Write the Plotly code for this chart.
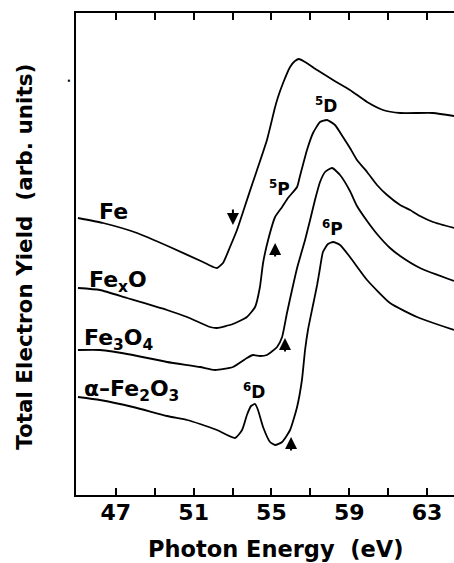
import plotly.graph_objects as go

# Photon energy (eV) and total electron yield (arb. units)
fe_e = [45.05, 46.34, 48.09, 49.78, 51.48, 52.00, 52.20, 52.51, 52.87, 53.23, 53.64, 54.05,
        54.26, 54.77, 55.19, 55.34, 55.60, 55.96, 56.21, 56.42, 56.73, 57.35, 58.17, 59.04,
        59.92, 60.74, 61.62, 63.31, 64.39]
fe_y = [27.9, 27.4, 26.4, 25.0, 23.5, 23.0, 22.9, 23.4, 25.0, 26.7, 29.1, 31.5,
        32.7, 35.7, 39.0, 40.0, 41.4, 43.0, 43.6, 43.8, 43.5, 42.7, 41.7, 40.7,
        39.5, 38.7, 38.4, 38.4, 38.1]

fexo_e = [45.05, 46.18, 47.57, 49.63, 50.66, 51.84, 52.20, 53.02, 53.74, 54.16, 54.41, 54.57,
          54.83, 55.19, 55.55, 55.85, 56.32, 56.47, 56.83, 57.14, 57.50, 57.86, 58.27, 58.68,
          59.04, 59.40, 59.92, 60.43, 60.95, 61.62, 62.13, 62.64, 63.31, 64.39]
fexo_y = [20.9, 20.7, 19.9, 18.7, 18.0, 17.0, 16.9, 17.3, 18.0, 19.0, 21.0, 23.4,
          25.7, 28.0, 29.0, 29.9, 31.0, 32.1, 34.7, 36.4, 37.5, 37.7, 37.2, 36.0,
          34.9, 33.7, 32.5, 31.2, 30.2, 29.2, 28.7, 28.1, 27.5, 26.9]

fe3o4_e = [45.05, 46.18, 47.88, 49.63, 51.33, 52.10, 53.02, 53.74, 54.05, 54.41, 54.77, 55.29,
           55.55, 55.80, 56.06, 56.32, 56.73, 56.99, 57.24, 57.50, 57.76, 58.12, 58.53,
           59.04, 59.40, 59.92, 60.43, 61.10, 61.62, 62.64, 64.39]
fe3o4_y = [14.7, 14.7, 14.2, 13.5, 13.0, 12.7, 13.0, 13.9, 14.2, 14.1, 14.2, 15.0,
           16.0, 18.4, 20.7, 22.9, 25.7, 27.7, 29.7, 31.5, 32.5, 32.9, 32.2,
           30.6, 29.1, 27.6, 26.3, 24.9, 24.1, 22.9, 21.6]

fe2o3_e = [45.05, 46.18, 47.88, 49.63, 50.66, 51.33, 52.20, 53.13, 53.49, 53.74, 53.95, 54.16,
           54.31, 54.57, 54.93, 55.19, 55.55, 55.96, 56.32, 56.57, 56.73, 56.88, 57.14, 57.35,
           57.50, 57.65, 57.91, 58.17, 58.53, 59.04, 59.92, 61.10, 62.49, 64.39]
fe2o3_y = [10.0, 9.7, 9.0, 8.1, 7.7, 7.3, 6.7, 5.9, 6.7, 8.2, 9.1, 9.3,
           8.7, 7.0, 5.5, 5.2, 5.5, 6.7, 9.0, 11.7, 14.7, 16.7, 19.2, 21.2,
           22.9, 24.5, 25.3, 25.5, 25.2, 24.0, 21.7, 19.4, 18.0, 16.7]

tick_vals = [47, 49, 51, 53, 55, 57, 59, 61, 63]
tick_text = ["47", "", "51", "", "55", "", "59", "", "63"]

series = [(fe_e, fe_y), (fexo_e, fexo_y), (fe3o4_e, fe3o4_y), (fe2o3_e, fe2o3_y)]

FONT = "DejaVu Sans"
fig = go.Figure()
for e, y in series:
    fig.add_trace(go.Scatter(x=e, y=y, mode="lines",
                             line=dict(color="black", width=1.8, shape="spline", smoothing=0.5),
                             showlegend=False, hoverinfo="skip"))

def lab(text, x, y, size=22, xanchor="left"):
    fig.add_annotation(x=x, y=y, xref="x", yref="y", text=text, showarrow=False,
                       xanchor=xanchor, yanchor="middle",
                       font=dict(family=FONT, size=size, color="black", weight="bold"))

lab("Fe", 46.03, 28.6)
lab("Fe<sub>x</sub>O", 45.51, 21.6)
lab("Fe<sub>3</sub>O<sub>4</sub>", 45.26, 15.8)
lab("α–Fe<sub>2</sub>O<sub>3</sub>", 45.26, 10.7)
lab("<sup>5</sup>D", 57.81, 39.2, size=17, xanchor="center")
lab("<sup>5</sup>P", 55.44, 30.9, size=17, xanchor="center")
lab("<sup>6</sup>P", 58.12, 26.9, size=17, xanchor="center")
lab("<sup>6</sup>D", 54.10, 10.6, size=17, xanchor="center")

for x, y, ay in [(53.02, 27.2, -17), (55.19, 25.4, 15), (55.70, 15.9, 15), (56.01, 6.0, 15)]:
    fig.add_annotation(x=x, y=y, xref="x", yref="y", ax=0, ay=ay, text="",
                       showarrow=True, arrowhead=2, arrowsize=1.2, arrowwidth=2,
                       arrowcolor="black")

fig.add_annotation(x=0.529, y=-0.113, xref="paper", yref="paper",
                   text="Photon Energy\u00a0 (eV)", showarrow=False,
                   xanchor="center", yanchor="middle",
                   font=dict(family=FONT, size=22.5, color="black", weight="bold"))
fig.add_annotation(x=-0.135, y=0.494, xref="paper", yref="paper",
                   text="Total Electron Yield\u00a0 (arb. units)", showarrow=False,
                   textangle=-90, xanchor="center", yanchor="middle",
                   font=dict(family=FONT, size=21.5, color="black", weight="bold"))
fig.add_annotation(x=-0.030, y=0.878, xref="paper", yref="paper", text="•",
                   showarrow=False, font=dict(size=10, color="black"))

fig.update_layout(
    width=454, height=563,
    margin=dict(l=76, r=0, t=13, b=68),
    plot_bgcolor="white", paper_bgcolor="white",
    xaxis=dict(range=[44.95, 64.39], tickvals=tick_vals, ticktext=tick_text,
               ticks="inside", ticklen=7, tickwidth=1.5, tickcolor="black",
               showline=True, linecolor="black", linewidth=2, mirror="ticks",
               showgrid=False, zeroline=False, ticklabelstandoff=-3,
               tickfont=dict(family=FONT, size=22, color="black", weight="bold")),
    yaxis=dict(range=[0.2, 48.4], showticklabels=False, ticks="",
               showline=True, linecolor="black", linewidth=2, mirror=False,
               showgrid=False, zeroline=False),
)
fig.write_html("out.html", config={"displayModeBar": False},
               post_script="document.body.style.margin='0px';document.body.style.overflow='hidden';")
